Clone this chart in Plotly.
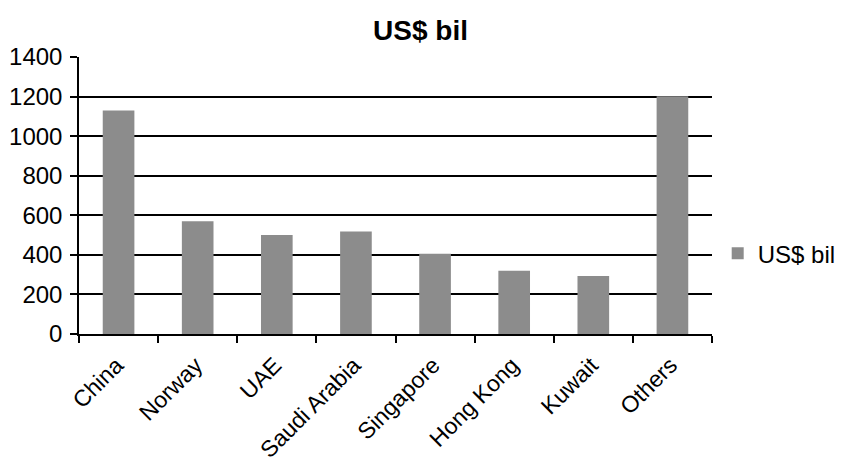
import plotly.graph_objects as go

categories = ["China", "Norway", "UAE", "Saudi Arabia", "Singapore", "Hong Kong", "Kuwait", "Others"]
values = [1130, 570, 500, 518, 405, 320, 293, 1202]
series_name = "US$ bil"
y_ticks = [0, 200, 400, 600, 800, 1000, 1200, 1400]

FONT = "Liberation Sans, Arial, Helvetica, sans-serif"

fig = go.Figure()
fig.add_trace(go.Bar(
    x=categories, y=values, name=series_name,
    marker=dict(color="#8c8c8c", line=dict(width=0)),
    width=0.4, showlegend=True,
))

fig.update_layout(
    width=841, height=464,
    margin=dict(l=79, r=129, t=57, b=130, autoexpand=False),
    paper_bgcolor="white", plot_bgcolor="white",
    font=dict(family=FONT, size=24, color="black"),
    title=dict(text="<b>US$ bil</b>", x=0.5, xref="container", xanchor="center",
               y=1, yref="container", yanchor="top", pad=dict(t=20),
               font=dict(family=FONT, size=28, color="black")),
    showlegend=True,
    legend=dict(x=1.009, xref="paper", y=0.29, yanchor="middle",
                font=dict(family=FONT, size=24, color="black"),
                bgcolor="rgba(0,0,0,0)", itemwidth=30),
    bargap=0.6,
)

fig.update_xaxes(
    type="category", tickangle=-45, showgrid=False, automargin=False,
    showline=True, linecolor="black", linewidth=1.5,
    ticks="outside", tickson="boundaries", ticklen=7, tickcolor="black", tickwidth=1.5,
    tickfont=dict(family=FONT, size=23, color="black"),
    ticklabelstandoff=7, ticklabelshift=-2,
)
fig.update_yaxes(
    range=[0, 1400], tickvals=y_ticks, ticktext=[str(v) for v in y_ticks],
    showgrid=True, gridcolor="black", gridwidth=1.5, automargin=False,
    showline=True, linecolor="black", linewidth=1.5,
    ticks="outside", ticklen=7, tickcolor="black", tickwidth=1.5,
    tickfont=dict(family=FONT, size=24, color="black"),
    zeroline=False, ticklabelstandoff=3,
)

fig.write_html("out.html")
